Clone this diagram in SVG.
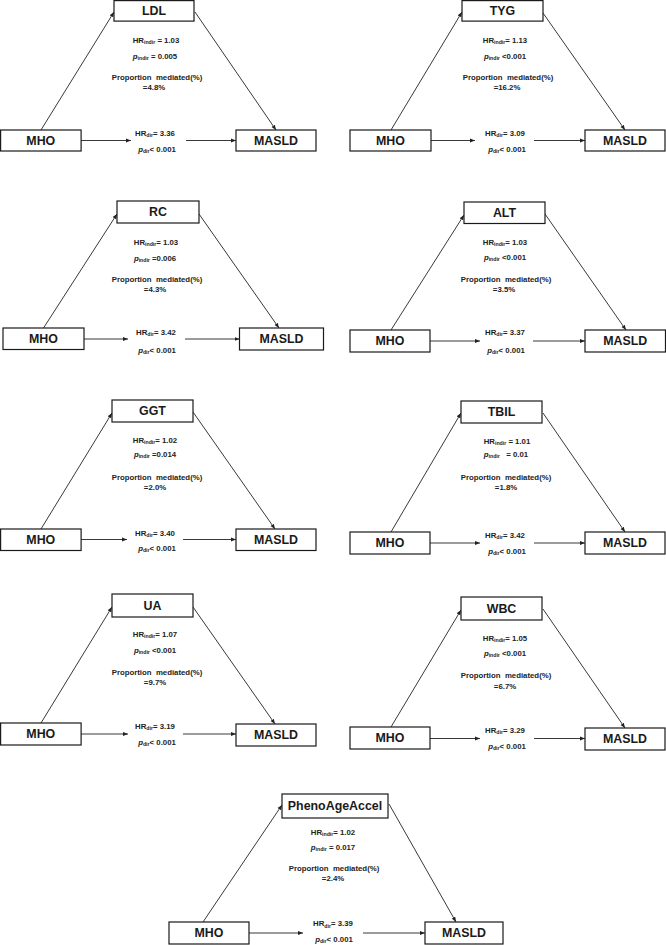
<svg xmlns="http://www.w3.org/2000/svg" width="666" height="945" viewBox="0 0 666 945">
<defs>
<style>
.box{fill:#fff;stroke:#1a1a1a;stroke-width:1.2}
.lbl{font-family:"Liberation Sans",Arial,sans-serif;font-weight:bold;font-size:12.4px;fill:#1a1a1a;text-anchor:middle}
.t{font-family:"Liberation Sans",Arial,sans-serif;font-weight:bold;font-size:7.8px;fill:#222;text-anchor:middle}
.sub{font-size:5.2px}
.it{font-style:italic}
.edge{stroke:#222;stroke-width:0.9;fill:none;marker-end:url(#ah)}
</style>
<marker id="ah" viewBox="0 0 10 10" refX="10" refY="5" markerWidth="5" markerHeight="5" orient="auto" markerUnits="userSpaceOnUse"><path d="M0,1 L10,5 L0,9 z" fill="#222"/></marker>
</defs>
<rect width="666" height="945" fill="#fff"/>

<g id="connectors">
<path class="edge" d="M41,130 L114,12"/>
<path class="edge" d="M195,12 L276,130"/>
<path class="edge" d="M81,140.5 L131,140.5"/>
<path class="edge" d="M186,140.5 L236,140.5"/>

<path class="edge" d="M391,130 L462,12"/>
<path class="edge" d="M543,13 L625,130"/>
<path class="edge" d="M431,140.5 L475,140.5"/>
<path class="edge" d="M534,140.5 L585,140.5"/>

<path class="edge" d="M43.5,328 L117,214"/>
<path class="edge" d="M199,214 L279,328"/>
<path class="edge" d="M84,339 L128,339"/>
<path class="edge" d="M185,339 L239.5,339"/>

<path class="edge" d="M391,330 L464,215"/>
<path class="edge" d="M545,214 L626,330"/>
<path class="edge" d="M430,341 L480,341"/>
<path class="edge" d="M533,341 L585,341"/>

<path class="edge" d="M41,529 L112,413"/>
<path class="edge" d="M193,412 L275,529"/>
<path class="edge" d="M81,539.5 L127,539.5"/>
<path class="edge" d="M183,539.5 L236,539.5"/>

<path class="edge" d="M391,532 L461,413"/>
<path class="edge" d="M543,413 L625,532"/>
<path class="edge" d="M430,543 L480,543"/>
<path class="edge" d="M534,543 L585,543"/>

<path class="edge" d="M41,723 L112,607"/>
<path class="edge" d="M193,607 L275,724"/>
<path class="edge" d="M81,734 L128,734"/>
<path class="edge" d="M183,734 L236,734"/>

<path class="edge" d="M391,727 L461,610"/>
<path class="edge" d="M543,609 L625,728"/>
<path class="edge" d="M430,738.5 L480,738.5"/>
<path class="edge" d="M534,738.5 L585,738.5"/>

<path class="edge" d="M203,922 L282,805"/>
<path class="edge" d="M389,804 L456,922"/>
<path class="edge" d="M249,933 L303,933"/>
<path class="edge" d="M363,933 L425,933"/>
</g>

<!-- Panel 1 LDL -->
<g id="p1-ldl"><rect class="box" x="114" y="0.6" width="80" height="20.5"/><text class="lbl" x="154" y="15.2">LDL</text></g>
<g id="p1-mho"><rect class="box" x="0.6" y="130" width="80.5" height="21"/><text class="lbl" x="40.8" y="145">MHO</text></g>
<g id="p1-masld"><rect class="box" x="236" y="130" width="80" height="21"/><text class="lbl" x="276" y="145">MASLD</text></g>
<g id="p1-labels">
<text class="t" x="156" y="42.8">HR<tspan class="sub" dy="1.6">indir</tspan><tspan dy="-1.6"> = 1.03</tspan></text>
<text class="t" x="155" y="58.8"><tspan class="it">p</tspan><tspan class="sub" dy="1.6">indir</tspan><tspan dy="-1.6"> = 0.005</tspan></text>
<text class="t" x="157" y="79.8" xml:space="preserve">Proportion  mediated(%)</text>
<text class="t" x="154" y="89.8">=4.8%</text>
<text class="t" x="155" y="135.8">HR<tspan class="sub" dy="1.6">dir</tspan><tspan dy="-1.6">= 3.36</tspan></text>
<text class="t" x="157" y="151.8"><tspan class="it">p</tspan><tspan class="sub" dy="1.6">dir</tspan><tspan dy="-1.6">&lt; 0.001</tspan></text>
</g>

<!-- Panel 2 TYG -->
<g id="p2-tyg"><rect class="box" x="462" y="0.6" width="81" height="20.5"/><text class="lbl" x="502.5" y="15.2">TYG</text></g>
<g id="p2-mho"><rect class="box" x="350" y="130" width="81" height="21"/><text class="lbl" x="390.5" y="145">MHO</text></g>
<g id="p2-masld"><rect class="box" x="585" y="130" width="80" height="21"/><text class="lbl" x="625" y="145">MASLD</text></g>
<g id="p2-labels">
<text class="t" x="505" y="42.8">HR<tspan class="sub" dy="1.6">indir</tspan><tspan dy="-1.6">= 1.13</tspan></text>
<text class="t" x="505" y="58.8"><tspan class="it">p</tspan><tspan class="sub" dy="1.6">indir</tspan><tspan dy="-1.6"> &lt;0.001</tspan></text>
<text class="t" x="508" y="79.8" xml:space="preserve">Proportion  mediated(%)</text>
<text class="t" x="507" y="89.8">=16.2%</text>
<text class="t" x="505" y="135.8">HR<tspan class="sub" dy="1.6">dir</tspan><tspan dy="-1.6">= 3.09</tspan></text>
<text class="t" x="507" y="151.8"><tspan class="it">p</tspan><tspan class="sub" dy="1.6">dir</tspan><tspan dy="-1.6">&lt; 0.001</tspan></text>
</g>

<!-- Panel 3 RC -->
<g id="p3-rc"><rect class="box" x="117" y="201" width="82" height="22"/><text class="lbl" x="158" y="216.4">RC</text></g>
<g id="p3-mho"><rect class="box" x="3" y="328" width="81" height="21.5"/><text class="lbl" x="43.5" y="343.2">MHO</text></g>
<g id="p3-masld"><rect class="box" x="239.5" y="328" width="84" height="22"/><text class="lbl" x="281.5" y="343.4">MASLD</text></g>
<g id="p3-labels">
<text class="t" x="156" y="244.8">HR<tspan class="sub" dy="1.6">indir</tspan><tspan dy="-1.6">= 1.03</tspan></text>
<text class="t" x="155" y="260.8"><tspan class="it">p</tspan><tspan class="sub" dy="1.6">indir</tspan><tspan dy="-1.6"> =0.006</tspan></text>
<text class="t" x="157" y="281.8" xml:space="preserve">Proportion  mediated(%)</text>
<text class="t" x="155" y="291.8">=4.3%</text>
<text class="t" x="156" y="334.8">HR<tspan class="sub" dy="1.6">dir</tspan><tspan dy="-1.6">= 3.42</tspan></text>
<text class="t" x="157" y="352.8"><tspan class="it">p</tspan><tspan class="sub" dy="1.6">dir</tspan><tspan dy="-1.6">&lt; 0.001</tspan></text>
</g>

<!-- Panel 4 ALT -->
<g id="p4-alt"><rect class="box" x="464" y="202" width="81" height="21.5"/><text class="lbl" x="504.5" y="217.2">ALT</text></g>
<g id="p4-mho"><rect class="box" x="350" y="330" width="80" height="22"/><text class="lbl" x="390" y="345.4">MHO</text></g>
<g id="p4-masld"><rect class="box" x="585" y="330" width="80.5" height="22"/><text class="lbl" x="625.3" y="345.4">MASLD</text></g>
<g id="p4-labels">
<text class="t" x="505" y="244.8">HR<tspan class="sub" dy="1.6">indir</tspan><tspan dy="-1.6">= 1.03</tspan></text>
<text class="t" x="505" y="259.8"><tspan class="it">p</tspan><tspan class="sub" dy="1.6">indir</tspan><tspan dy="-1.6"> &lt;0.001</tspan></text>
<text class="t" x="506" y="281.8" xml:space="preserve">Proportion  mediated(%)</text>
<text class="t" x="504" y="291.8">=3.5%</text>
<text class="t" x="505" y="334.8">HR<tspan class="sub" dy="1.6">dir</tspan><tspan dy="-1.6">= 3.37</tspan></text>
<text class="t" x="506" y="352.8"><tspan class="it">p</tspan><tspan class="sub" dy="1.6">dir</tspan><tspan dy="-1.6">&lt; 0.001</tspan></text>
</g>

<!-- Panel 5 GGT -->
<g id="p5-ggt"><rect class="box" x="112" y="400" width="81" height="22"/><text class="lbl" x="152.5" y="415.4">GGT</text></g>
<g id="p5-mho"><rect class="box" x="0.6" y="529" width="80.5" height="21.5"/><text class="lbl" x="40.8" y="544.2">MHO</text></g>
<g id="p5-masld"><rect class="box" x="236" y="529" width="80" height="21.5"/><text class="lbl" x="276" y="544.2">MASLD</text></g>
<g id="p5-labels">
<text class="t" x="155" y="442.8">HR<tspan class="sub" dy="1.6">indir</tspan><tspan dy="-1.6">= 1.02</tspan></text>
<text class="t" x="155" y="456.8"><tspan class="it">p</tspan><tspan class="sub" dy="1.6">indir</tspan><tspan dy="-1.6"> =0.014</tspan></text>
<text class="t" x="157" y="479.8" xml:space="preserve">Proportion  mediated(%)</text>
<text class="t" x="155" y="489.8">=2.0%</text>
<text class="t" x="155" y="535.8">HR<tspan class="sub" dy="1.6">dir</tspan><tspan dy="-1.6">= 3.40</tspan></text>
<text class="t" x="157" y="550.8"><tspan class="it">p</tspan><tspan class="sub" dy="1.6">dir</tspan><tspan dy="-1.6">&lt; 0.001</tspan></text>
</g>

<!-- Panel 6 TBIL -->
<g id="p6-tbil"><rect class="box" x="461" y="401" width="81" height="22"/><text class="lbl" x="501.5" y="416.4">TBIL</text></g>
<g id="p6-mho"><rect class="box" x="350" y="532" width="80" height="22"/><text class="lbl" x="390" y="547.4">MHO</text></g>
<g id="p6-masld"><rect class="box" x="585" y="532" width="80" height="22"/><text class="lbl" x="625" y="547.4">MASLD</text></g>
<g id="p6-labels">
<text class="t" x="507" y="443.8">HR<tspan class="sub" dy="1.6">indir</tspan><tspan dy="-1.6"> = 1.01</tspan></text>
<text class="t" x="506" y="456.8" xml:space="preserve"><tspan class="it">p</tspan><tspan class="sub" dy="1.6">indir</tspan><tspan dy="-1.6">   = 0.01</tspan></text>
<text class="t" x="506" y="479.8" xml:space="preserve">Proportion  mediated(%)</text>
<text class="t" x="506" y="489.8">=1.8%</text>
<text class="t" x="505" y="537.8">HR<tspan class="sub" dy="1.6">dir</tspan><tspan dy="-1.6">= 3.42</tspan></text>
<text class="t" x="507" y="553.8"><tspan class="it">p</tspan><tspan class="sub" dy="1.6">dir</tspan><tspan dy="-1.6">&lt; 0.001</tspan></text>
</g>

<!-- Panel 7 UA -->
<g id="p7-ua"><rect class="box" x="112" y="594" width="81" height="23"/><text class="lbl" x="152.5" y="609.9">UA</text></g>
<g id="p7-mho"><rect class="box" x="0.6" y="723" width="80.5" height="22"/><text class="lbl" x="40.8" y="738.4">MHO</text></g>
<g id="p7-masld"><rect class="box" x="236" y="724" width="80" height="22"/><text class="lbl" x="276" y="739.4">MASLD</text></g>
<g id="p7-labels">
<text class="t" x="155" y="636.8">HR<tspan class="sub" dy="1.6">indir</tspan><tspan dy="-1.6">= 1.07</tspan></text>
<text class="t" x="155" y="652.8"><tspan class="it">p</tspan><tspan class="sub" dy="1.6">indir</tspan><tspan dy="-1.6"> &lt;0.001</tspan></text>
<text class="t" x="157" y="674.8" xml:space="preserve">Proportion  mediated(%)</text>
<text class="t" x="155" y="684.8">=9.7%</text>
<text class="t" x="155" y="728.8">HR<tspan class="sub" dy="1.6">dir</tspan><tspan dy="-1.6">= 3.19</tspan></text>
<text class="t" x="157" y="744.8"><tspan class="it">p</tspan><tspan class="sub" dy="1.6">dir</tspan><tspan dy="-1.6">&lt; 0.001</tspan></text>
</g>

<!-- Panel 8 WBC -->
<g id="p8-wbc"><rect class="box" x="461" y="597" width="81" height="23"/><text class="lbl" x="501.5" y="612.9">WBC</text></g>
<g id="p8-mho"><rect class="box" x="350" y="727" width="80" height="22"/><text class="lbl" x="390" y="742.4">MHO</text></g>
<g id="p8-masld"><rect class="box" x="585" y="728" width="80" height="22"/><text class="lbl" x="625" y="743.4">MASLD</text></g>
<g id="p8-labels">
<text class="t" x="505" y="640.8">HR<tspan class="sub" dy="1.6">indir</tspan><tspan dy="-1.6">= 1.05</tspan></text>
<text class="t" x="505" y="655.8"><tspan class="it">p</tspan><tspan class="sub" dy="1.6">indir</tspan><tspan dy="-1.6"> &lt;0.001</tspan></text>
<text class="t" x="506" y="677.8" xml:space="preserve">Proportion  mediated(%)</text>
<text class="t" x="505" y="688.8">=6.7%</text>
<text class="t" x="505" y="732.8">HR<tspan class="sub" dy="1.6">dir</tspan><tspan dy="-1.6">= 3.29</tspan></text>
<text class="t" x="507" y="748.8"><tspan class="it">p</tspan><tspan class="sub" dy="1.6">dir</tspan><tspan dy="-1.6">&lt; 0.001</tspan></text>
</g>

<!-- Panel 9 PhenoAgeAccel -->
<g id="p9-phenoageaccel"><rect class="box" x="282" y="794" width="106" height="24"/><text class="lbl" x="335" y="810.4">PhenoAgeAccel</text></g>
<g id="p9-mho"><rect class="box" x="169" y="922" width="80" height="22"/><text class="lbl" x="209" y="937.4">MHO</text></g>
<g id="p9-masld"><rect class="box" x="425" y="922" width="78" height="22"/><text class="lbl" x="464" y="937.4">MASLD</text></g>
<g id="p9-labels">
<text class="t" x="333" y="834.8">HR<tspan class="sub" dy="1.6">indir</tspan><tspan dy="-1.6">= 1.02</tspan></text>
<text class="t" x="333" y="849.8"><tspan class="it">p</tspan><tspan class="sub" dy="1.6">indir</tspan><tspan dy="-1.6"> = 0.017</tspan></text>
<text class="t" x="334" y="870.8" xml:space="preserve">Proportion  mediated(%)</text>
<text class="t" x="333" y="880.8">=2.4%</text>
<text class="t" x="333" y="926.3">HR<tspan class="sub" dy="1.6">dir</tspan><tspan dy="-1.6">= 3.39</tspan></text>
<text class="t" x="334" y="941.8"><tspan class="it">p</tspan><tspan class="sub" dy="1.2">dir</tspan><tspan dy="-1.2">&lt; 0.001</tspan></text>
</g>
</svg>
